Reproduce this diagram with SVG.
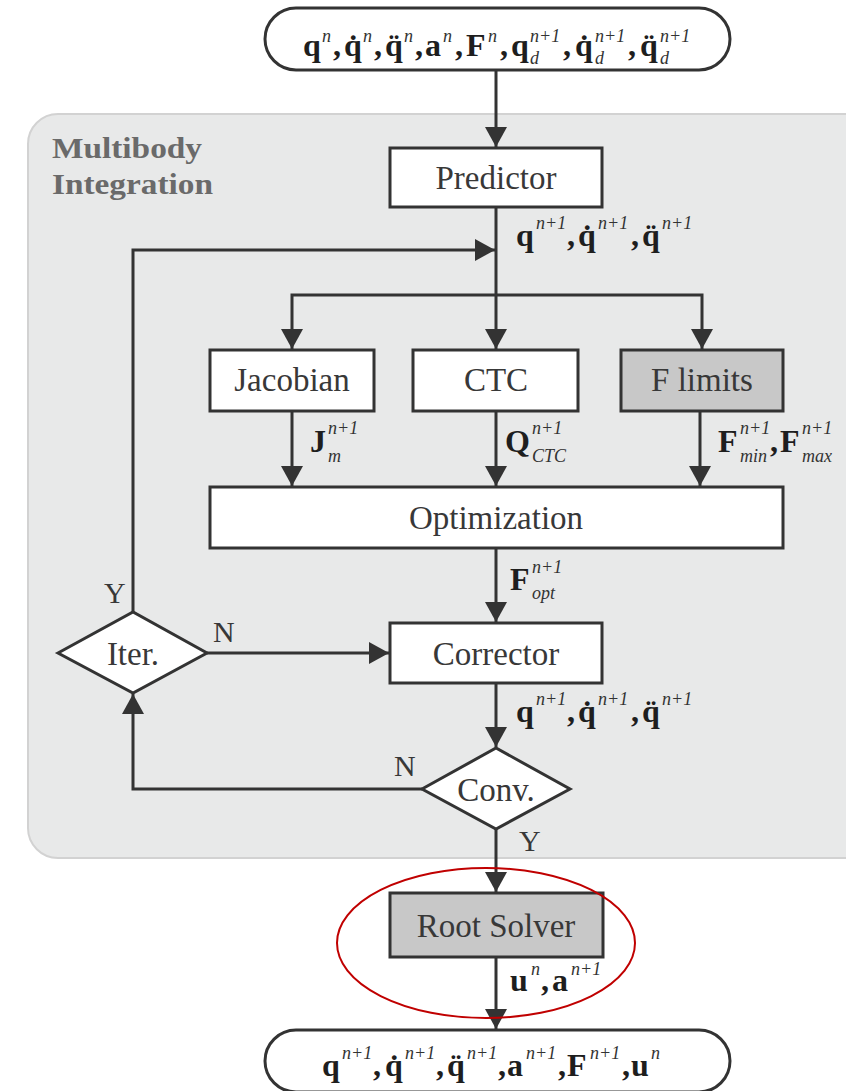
<svg xmlns="http://www.w3.org/2000/svg" width="846" height="1091" viewBox="0 0 846 1091">
<style>
.box{fill:#fff;stroke:#333;stroke-width:3}
.gbox{fill:#c8c8c8;stroke:#333;stroke-width:3}
.ln{fill:none;stroke:#333;stroke-width:3}
.lbl{font-family:"Liberation Serif",serif;font-size:33px;fill:#383838;text-anchor:middle}
.yn{font-family:"Liberation Serif",serif;font-size:30px;fill:#383838}
.m{font-family:"Liberation Serif",serif;font-weight:bold;font-size:32px;fill:#1e1e1e}
.s{font-style:italic;font-weight:normal;font-size:18px;fill:#333}
.title{font-family:"Liberation Serif",serif;font-weight:bold;font-size:30px;fill:#6a6a6a}
</style>
<defs>
<marker id="ah" markerUnits="userSpaceOnUse" markerWidth="22" markerHeight="22" viewBox="0 0 20 22" refX="20" refY="11" orient="auto">
<path d="M0,0 L20,11 L0,22 z" fill="#333"/>
</marker>
</defs>
<rect id="panel" x="28" y="114" width="850" height="744" rx="30" fill="#e8e9e9" stroke="#d2d2d2" stroke-width="2"/>
<text class="title" x="52" y="158" textLength="150" lengthAdjust="spacingAndGlyphs">Multibody</text>
<text class="title" x="52" y="194" textLength="161" lengthAdjust="spacingAndGlyphs">Integration</text>

<g id="connectors">
<path class="ln" d="M496,70 V147" marker-end="url(#ah)"/>
<path class="ln" d="M496,207 V349" marker-end="url(#ah)"/>
<path class="ln" d="M496,295 H292 V349" marker-end="url(#ah)"/>
<path class="ln" d="M496,295 H702 V349" marker-end="url(#ah)"/>
<path class="ln" d="M133,612 V250 H495" marker-end="url(#ah)"/>
<path class="ln" d="M292,411 V486" marker-end="url(#ah)"/>
<path class="ln" d="M496,411 V486" marker-end="url(#ah)"/>
<path class="ln" d="M700,411 V486" marker-end="url(#ah)"/>
<path class="ln" d="M496,548 V622" marker-end="url(#ah)"/>
<path class="ln" d="M207,653 H389" marker-end="url(#ah)"/>
<path class="ln" d="M496,683 V747" marker-end="url(#ah)"/>
<path class="ln" d="M422,789 H133 V694" marker-end="url(#ah)"/>
<path class="ln" d="M496,829 V892" marker-end="url(#ah)"/>
<path class="ln" d="M496,957 V1029" marker-end="url(#ah)"/>
</g>

<g id="input">
<rect x="265" y="8" width="465" height="62" rx="31" fill="#fff" stroke="#333" stroke-width="3"/>
<text class="m"><tspan x="303" y="56">q</tspan><tspan class="s" x="322" y="42">n</tspan><tspan x="333" y="56">,</tspan><tspan x="344" y="56">q̇</tspan><tspan class="s" x="363" y="42">n</tspan><tspan x="374" y="56">,</tspan><tspan x="385" y="56">q̈</tspan><tspan class="s" x="404" y="42">n</tspan><tspan x="415" y="56">,</tspan><tspan x="425" y="56">a</tspan><tspan class="s" x="443" y="42">n</tspan><tspan x="455" y="56">,</tspan><tspan x="466" y="56">F</tspan><tspan class="s" x="488" y="42">n</tspan><tspan x="500" y="56">,</tspan><tspan x="511" y="56">q</tspan><tspan class="s" x="530" y="42">n+1</tspan><tspan class="s" x="530" y="64">d</tspan><tspan x="563" y="56">,</tspan><tspan x="575" y="56">q̇</tspan><tspan class="s" x="595" y="42">n+1</tspan><tspan class="s" x="595" y="64">d</tspan><tspan x="628" y="56">,</tspan><tspan x="640" y="56">q̈</tspan><tspan class="s" x="660" y="42">n+1</tspan><tspan class="s" x="660" y="64">d</tspan></text>
</g>

<g id="predictor">
<rect class="box" x="390" y="148" width="212" height="59"/>
<text class="lbl" x="496" y="189">Predictor</text>
</g>
<text class="m" id="lbl-pred"><tspan x="516" y="246">q</tspan><tspan class="s" x="536" y="229">n+1</tspan><tspan x="567" y="246">,</tspan><tspan x="578" y="246">q̇</tspan><tspan class="s" x="598" y="229">n+1</tspan><tspan x="631" y="246">,</tspan><tspan x="642" y="246">q̈</tspan><tspan class="s" x="662" y="229">n+1</tspan></text>

<g id="jacobian">
<rect class="box" x="210" y="350" width="164" height="61"/>
<text class="lbl" x="292" y="391">Jacobian</text>
</g>
<g id="ctc">
<rect class="box" x="413" y="350" width="165" height="61"/>
<text class="lbl" x="496" y="391">CTC</text>
</g>
<g id="flimits">
<rect class="gbox" x="621" y="350" width="162" height="61"/>
<text class="lbl" x="702" y="391">F limits</text>
</g>
<text class="m" id="lbl-j"><tspan x="310" y="452">J</tspan><tspan class="s" x="328" y="434">n+1</tspan><tspan class="s" x="328" y="462">m</tspan></text>
<text class="m" id="lbl-q"><tspan x="505" y="452">Q</tspan><tspan class="s" x="532" y="434">n+1</tspan><tspan class="s" x="532" y="462">CTC</tspan></text>
<text class="m" id="lbl-f"><tspan x="718" y="452">F</tspan><tspan class="s" x="740" y="434">n+1</tspan><tspan class="s" x="740" y="462">min</tspan><tspan x="770" y="452">,</tspan><tspan x="780" y="452">F</tspan><tspan class="s" x="802" y="434">n+1</tspan><tspan class="s" x="802" y="462">max</tspan></text>

<g id="optimization">
<rect class="box" x="210" y="487" width="573" height="61"/>
<text class="lbl" x="496" y="529">Optimization</text>
</g>
<text class="m" id="lbl-fopt"><tspan x="510" y="590">F</tspan><tspan class="s" x="532" y="573">n+1</tspan><tspan class="s" x="532" y="599">opt</tspan></text>

<g id="corrector">
<rect class="box" x="390" y="623" width="212" height="60"/>
<text class="lbl" x="496" y="665">Corrector</text>
</g>
<text class="m" id="lbl-corr"><tspan x="516" y="722">q</tspan><tspan class="s" x="536" y="705">n+1</tspan><tspan x="567" y="722">,</tspan><tspan x="578" y="722">q̇</tspan><tspan class="s" x="598" y="705">n+1</tspan><tspan x="631" y="722">,</tspan><tspan x="642" y="722">q̈</tspan><tspan class="s" x="662" y="705">n+1</tspan></text>

<g id="iter">
<polygon points="58,653 133,612 207,653 133,693" fill="#fff" stroke="#333" stroke-width="3"/>
<text class="lbl" x="133" y="665">Iter.</text>
</g>
<text class="yn" x="104" y="603">Y</text>
<text class="yn" x="213" y="642">N</text>

<g id="conv">
<polygon points="422,789 496,748 570,789 496,829" fill="#fff" stroke="#333" stroke-width="3"/>
<text class="lbl" x="496" y="801">Conv.</text>
</g>
<text class="yn" x="394" y="776">N</text>
<text class="yn" x="519" y="851">Y</text>

<g id="rootsolver">
<rect class="gbox" x="390" y="893" width="213" height="64"/>
<text class="lbl" x="496" y="937">Root Solver</text>
</g>
<text class="m" id="lbl-root"><tspan x="510" y="991">u</tspan><tspan class="s" x="531" y="975">n</tspan><tspan x="541" y="991">,</tspan><tspan x="552" y="991">a</tspan><tspan class="s" x="571" y="975">n+1</tspan></text>

<g id="output">
<rect x="265" y="1030" width="465" height="62" rx="31" fill="#fff" stroke="#333" stroke-width="3"/>
<text class="m"><tspan x="322" y="1076">q</tspan><tspan class="s" x="342" y="1059">n+1</tspan><tspan x="373" y="1076">,</tspan><tspan x="385" y="1076">q̇</tspan><tspan class="s" x="405" y="1059">n+1</tspan><tspan x="436" y="1076">,</tspan><tspan x="447" y="1076">q̈</tspan><tspan class="s" x="467" y="1059">n+1</tspan><tspan x="498" y="1076">,</tspan><tspan x="507" y="1076">a</tspan><tspan class="s" x="526" y="1059">n+1</tspan><tspan x="558" y="1076">,</tspan><tspan x="567" y="1076">F</tspan><tspan class="s" x="590" y="1059">n+1</tspan><tspan x="622" y="1076">,</tspan><tspan x="631" y="1076">u</tspan><tspan class="s" x="651" y="1059">n</tspan></text>
</g>

<ellipse id="highlight" cx="486" cy="943" rx="149" ry="75" fill="none" stroke="#c00000" stroke-width="2"/>
</svg>
